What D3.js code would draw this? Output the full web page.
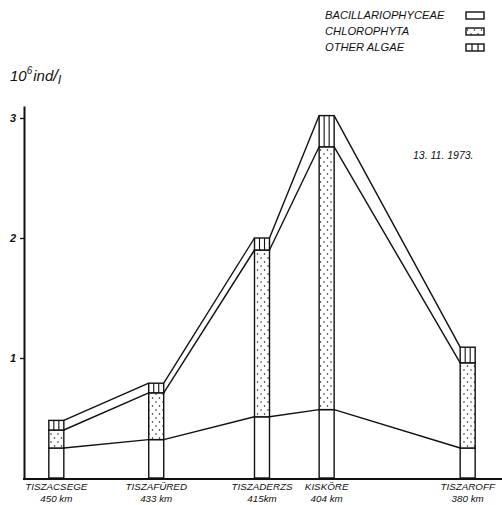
<!DOCTYPE html>
<html><head><meta charset="utf-8">
<script src="https://cdn.jsdelivr.net/npm/d3@7/dist/d3.min.js"></script>
<style>
html,body{margin:0;padding:0;background:#fff;}
svg{display:block;}
text{font-family:"Liberation Sans","DejaVu Sans",sans-serif;font-style:italic;fill:#111;}
</style></head>
<body>
<svg id="chart" width="502" height="505"></svg>
<script>
const sites = ["TISZACSEGE","TISZAFÜRED","TISZADERZS","KISKÖRE","TISZAROFF"];
const kmLabels = ["450 km","433 km","415km","404 km","380 km"];
const km = [450,433,415,404,380];
const bacillariophyceae = [0.25,0.32,0.51,0.57,0.25];
const chlorophyta = [0.15,0.39,1.39,2.19,0.71];
const otherAlgae = [0.08,0.08,0.10,0.26,0.13];
const yTicks = [1,2,3];
const legendLabels = ["BACILLARIOPHYCEAE","CHLOROPHYTA","OTHER ALGAE"];
const dateLabel = "13. 11. 1973.";

const svg = d3.select("#chart");
const ink = "#111";
const sw = 1.4;

const x = d3.scaleLinear().domain([455.5, 374.5]).range([24, 500]);
const y = d3.scaleLinear().domain([0, 3.1]).range([478, 106]);
const bw = 15;

// dot pattern
const defs = svg.append("defs");
const pat = defs.append("pattern").attr("id","dots").attr("patternUnits","userSpaceOnUse")
  .attr("width",7).attr("height",8);
pat.append("rect").attr("width",7).attr("height",8).attr("fill","#fff");
pat.append("circle").attr("cx",2).attr("cy",2).attr("r",0.75).attr("fill",ink);
pat.append("circle").attr("cx",5.5).attr("cy",6).attr("r",0.75).attr("fill",ink);

const rows = sites.map((s,i)=>{
  const b = bacillariophyceae[i], c = b + chlorophyta[i], t = c + otherAlgae[i];
  return {site:s, km:km[i], kmLabel:kmLabels[i], b, c, t};
});

// axes
const yAxis = d3.axisLeft(y).tickValues(yTicks).tickSize(4).tickSizeOuter(0).tickPadding(4).tickFormat(d3.format("d"));
const gy = svg.append("g").attr("transform","translate(24,0)").call(yAxis);
gy.select(".domain").attr("stroke",ink).attr("stroke-width",2);
gy.selectAll(".tick line").attr("stroke",ink).attr("stroke-width",1.3);
gy.selectAll(".tick text").attr("font-size",11).attr("font-style","italic").attr("font-weight","bold").attr("fill",ink)
  .attr("font-family","Liberation Sans, sans-serif");

svg.append("line").attr("x1",23).attr("x2",502).attr("y1",y(0)+1).attr("y2",y(0)+1)
  .attr("stroke",ink).attr("stroke-width",2);

// connecting lines
const levels = ["b","c","t"];
levels.forEach(k=>{
  for(let i=0;i<rows.length-1;i++){
    svg.append("line")
      .attr("x1",x(rows[i].km)+bw/2).attr("y1",y(rows[i][k]))
      .attr("x2",x(rows[i+1].km)-bw/2).attr("y2",y(rows[i+1][k]))
      .attr("stroke",ink).attr("stroke-width",sw);
  }
});

// bars
const bars = svg.selectAll("g.bar").data(rows).join("g").attr("class","bar");
bars.append("rect").attr("x",d=>x(d.km)-bw/2).attr("width",bw)
  .attr("y",d=>y(d.b)).attr("height",d=>y(0)-y(d.b))
  .attr("fill","#fff").attr("stroke",ink).attr("stroke-width",sw);
bars.append("rect").attr("x",d=>x(d.km)-bw/2).attr("width",bw)
  .attr("y",d=>y(d.c)).attr("height",d=>y(d.b)-y(d.c))
  .attr("fill","url(#dots)").attr("stroke",ink).attr("stroke-width",sw);
bars.append("rect").attr("x",d=>x(d.km)-bw/2).attr("width",bw)
  .attr("y",d=>y(d.t)).attr("height",d=>y(d.c)-y(d.t))
  .attr("fill","#fff").attr("stroke",ink).attr("stroke-width",sw);
[1/3,2/3].forEach(f=>{
  bars.append("line").attr("x1",d=>x(d.km)-bw/2+bw*f).attr("x2",d=>x(d.km)-bw/2+bw*f)
    .attr("y1",d=>y(d.t)).attr("y2",d=>y(d.c)).attr("stroke",ink).attr("stroke-width",1.1);
});

// x labels
bars.append("text").attr("x",d=>x(d.km)).attr("y",490).attr("text-anchor","middle")
  .attr("font-size",9.8).text(d=>d.site);
bars.append("text").attr("x",d=>x(d.km)).attr("y",502).attr("text-anchor","middle")
  .attr("font-size",9.8).text(d=>d.kmLabel);

// y title
const yt = svg.append("text").attr("x",10).attr("y",81).attr("font-size",15);
yt.append("tspan").text("10");
yt.append("tspan").attr("dy",-7).attr("font-size",10).text("6");
yt.append("tspan").attr("dy",7).attr("dx",1).text("ind");
yt.append("tspan").attr("font-size",17).text("/");
yt.append("tspan").attr("dy",3).attr("font-size",13).text("l");

// date
svg.append("text").attr("x",413).attr("y",159).attr("font-size",10.5).text(dateLabel);

// legend
const lg = svg.append("g");
legendLabels.forEach((lab,i)=>{
  const yy = 19 + i*16;
  lg.append("text").attr("x",325).attr("y",yy).attr("font-size",11.2).text(lab);
  lg.append("rect").attr("x",466).attr("y",yy-7).attr("width",18).attr("height",7)
    .attr("fill", i===1 ? "url(#dots)" : "#fff").attr("stroke",ink).attr("stroke-width",1.4);
  if(i===2){
    [1/3,2/3].forEach(f=>lg.append("line").attr("x1",466+18*f).attr("x2",466+18*f)
      .attr("y1",yy-7).attr("y2",yy).attr("stroke",ink).attr("stroke-width",1.2));
  }
});
</script>
</body></html>
